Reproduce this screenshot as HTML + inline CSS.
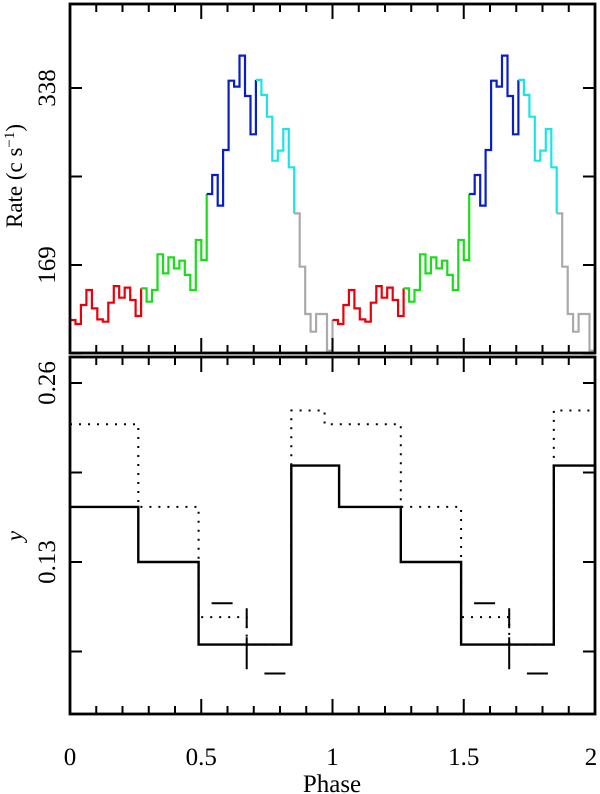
<!DOCTYPE html>
<html><head><meta charset="utf-8"><style>
html,body{margin:0;padding:0;background:#fff;}
svg{display:block;font-family:"Liberation Serif",serif;}
</style></head><body>
<svg id="chart" width="600" height="794" viewBox="0 0 600 794" xmlns="http://www.w3.org/2000/svg"></svg>
<script>
// ---- data ----
const rateBins = [116.5,112.7,130.8,145.1,127.6,117.1,114.9,133.0,148.9,137.8,147.4,135.6,120.3,
  146.7,134.0,145.1,179.2,161.0,176.3,165.8,173.1,159.5,145.1,192.9,173.8,
  236.8,254.9,225.7,278.8,345.0,339.3,368.9,330.4,293.8,
  345.7,331.4,310.6,268.6,278.2,298.9,262.3,
  218.3,167.4,122.2,105.3,122.2,122.2,87.2];
const colorGroups = [[0,12,'#e8000b'],[13,24,'#1bdc1b'],[25,33,'#0a1ec8'],[34,40,'#18e6e6'],[41,47,'#aaaaaa']];
const rateTicks = [338,169];
const solidEdges = [0,0.26,0.49,0.843,1.025,1.26,1.49,1.843,2.0];
const solidVals  = [0.170,0.130,0.070,0.200,0.170,0.130,0.070,0.200];
const dotEdges = [0,0.26,0.49,0.673,0.843,0.97,1.26,1.49,1.673,1.843,2.0];
const dotVals  = [0.230,0.170,0.090,0.070,0.240,0.230,0.170,0.090,0.070,0.240];
const dashEdges = [0.49,0.673,0.843];
const dashVals  = [0.100,0.049];
const dashEdges2 = [1.49,1.673,1.843];
const yTicks = [0.26,0.13];
const xTickLabels = ['0','0.5','1','1.5','2'];

const svg = document.getElementById('chart');
const NS = 'http://www.w3.org/2000/svg';
const L = 70, R = 595;
const X = p => L + p*(R-L)/2;
const T1 = 4, B1 = 353;
const Y1 = v => 265 - (v-169)*177/169;
const T2 = 357, B2 = 714;
const Y2 = v => 383 + (0.26-v)*179/0.13;

function mk(tag, attrs, parent){ const e=document.createElementNS(NS,tag); for(const k in attrs) e.setAttribute(k,attrs[k]); (parent||svg).appendChild(e); return e; }

// rate histogram
const gRate = mk('g',{});


const nb = rateBins.length, w = 1/nb;
for (let c=0;c<2;c++){
  colorGroups.forEach(([a,b,col],gi)=>{
    let d='';
    for(let k=a;k<=b;k++){
      const x0=X(c+k*w), x1=X(c+(k+1)*w), y=Y1(rateBins[k]);
      d += (k===a?'M':'L')+x0.toFixed(1)+','+y.toFixed(1)+' L'+x1.toFixed(1)+','+y.toFixed(1)+' ';
      if(k===b){ const nk=(k+1)%nb; if(!(c===1&&k===nb-1)) d+='L'+x1.toFixed(1)+','+Y1(rateBins[nk]).toFixed(1)+' '; }
      else d+='L'+x1.toFixed(1)+','+Y1(rateBins[k+1]).toFixed(1)+' ';
    }
    const p=mk('path',{d:d,fill:'none',stroke:col,'stroke-width':2.2},gRate);
    
    
  });
}

function stepPath(edges, vals){
  let d='';
  for(let i=0;i<vals.length;i++){
    const y=Y2(vals[i]);
    d += (i===0?'M':'L')+X(edges[i]).toFixed(1)+','+y.toFixed(1)+' L'+X(edges[i+1]).toFixed(1)+','+y.toFixed(1)+' ';
  }
  return d;
}
const ps=mk('path',{d:stepPath(solidEdges,solidVals),fill:'none',stroke:'#000','stroke-width':2.4});


const pd=mk('path',{d:stepPath(dotEdges,dotVals),fill:'none',stroke:'#000','stroke-width':2,'stroke-dasharray':'2,7'});


[dashEdges,dashEdges2].forEach((ed,i)=>{
  let d=stepPath(ed,dashVals)+'L'+X(ed[2]).toFixed(1)+','+Y2(0.070).toFixed(1);
  const p=mk('path',{d:d,fill:'none',stroke:'#000','stroke-width':2,'stroke-dasharray':'0 13 21 19 20 9 32 22 21 100'});
  
  
});

// frames and ticks
function frame(top,bot,name){
  const r=mk('rect',{x:L,y:top,width:R-L,height:bot-top,fill:'none',stroke:'#000','stroke-width':2.8});
  
  
  for(let i=0;i<=20;i++){
    const x=X(i*0.1), len=(i%5===0)?15:8;
    mk('line',{x1:x,y1:bot,x2:x,y2:bot-len,stroke:'#000','stroke-width':2});
    mk('line',{x1:x,y1:top,x2:x,y2:top+len,stroke:'#000','stroke-width':2});
  }
}
frame(T1,B1,'top-panel-frame');
frame(T2,B2,'bottom-panel-frame');
[84.5,169,253.5,338].forEach(v=>{ const y=Y1(v);
  mk('line',{x1:L,y1:y,x2:L+12,y2:y,stroke:'#000','stroke-width':2});
  mk('line',{x1:R,y1:y,x2:R-12,y2:y,stroke:'#000','stroke-width':2}); });
[0.065,0.13,0.195,0.26].forEach(v=>{ const y=Y2(v);
  mk('line',{x1:L,y1:y,x2:L+12,y2:y,stroke:'#000','stroke-width':2});
  mk('line',{x1:R,y1:y,x2:R-12,y2:y,stroke:'#000','stroke-width':2}); });

// labels
function rotText(txt,x,y,name,extra){
  const t=mk('text',Object.assign({x:0,y:0,transform:`translate(${x},${y}) rotate(-90)`,'text-anchor':'middle','font-size':25},extra||{}));
  t.textContent=txt;
  
  
  return t;
}
rateTicks.forEach(v=>rotText(String(v),55,Y1(v),'y-tick-'+v));
yTicks.forEach(v=>rotText(v.toFixed(2),55,Y2(v),'y2-tick-'+v));
const rl=mk('text',{x:0,y:0,transform:'translate(22,176) rotate(-90)','text-anchor':'middle','font-size':23});


rl.innerHTML='Rate (c s<tspan dy="-8" font-size="15">−1</tspan><tspan dy="8">)</tspan>';
rotText('y',22,536,'y-axis-title',{'font-style':'italic','font-size':23});
xTickLabels.forEach((s,i)=>{
  const t=mk('text',{x:X(i*0.5)+(i===4?-4:0),y:765,'text-anchor':'middle','font-size':25});
  t.textContent=s;
  
  
});
const xt=mk('text',{x:332,y:792,'text-anchor':'middle','font-size':25});
xt.textContent='Phase';


</script>
</body></html>
